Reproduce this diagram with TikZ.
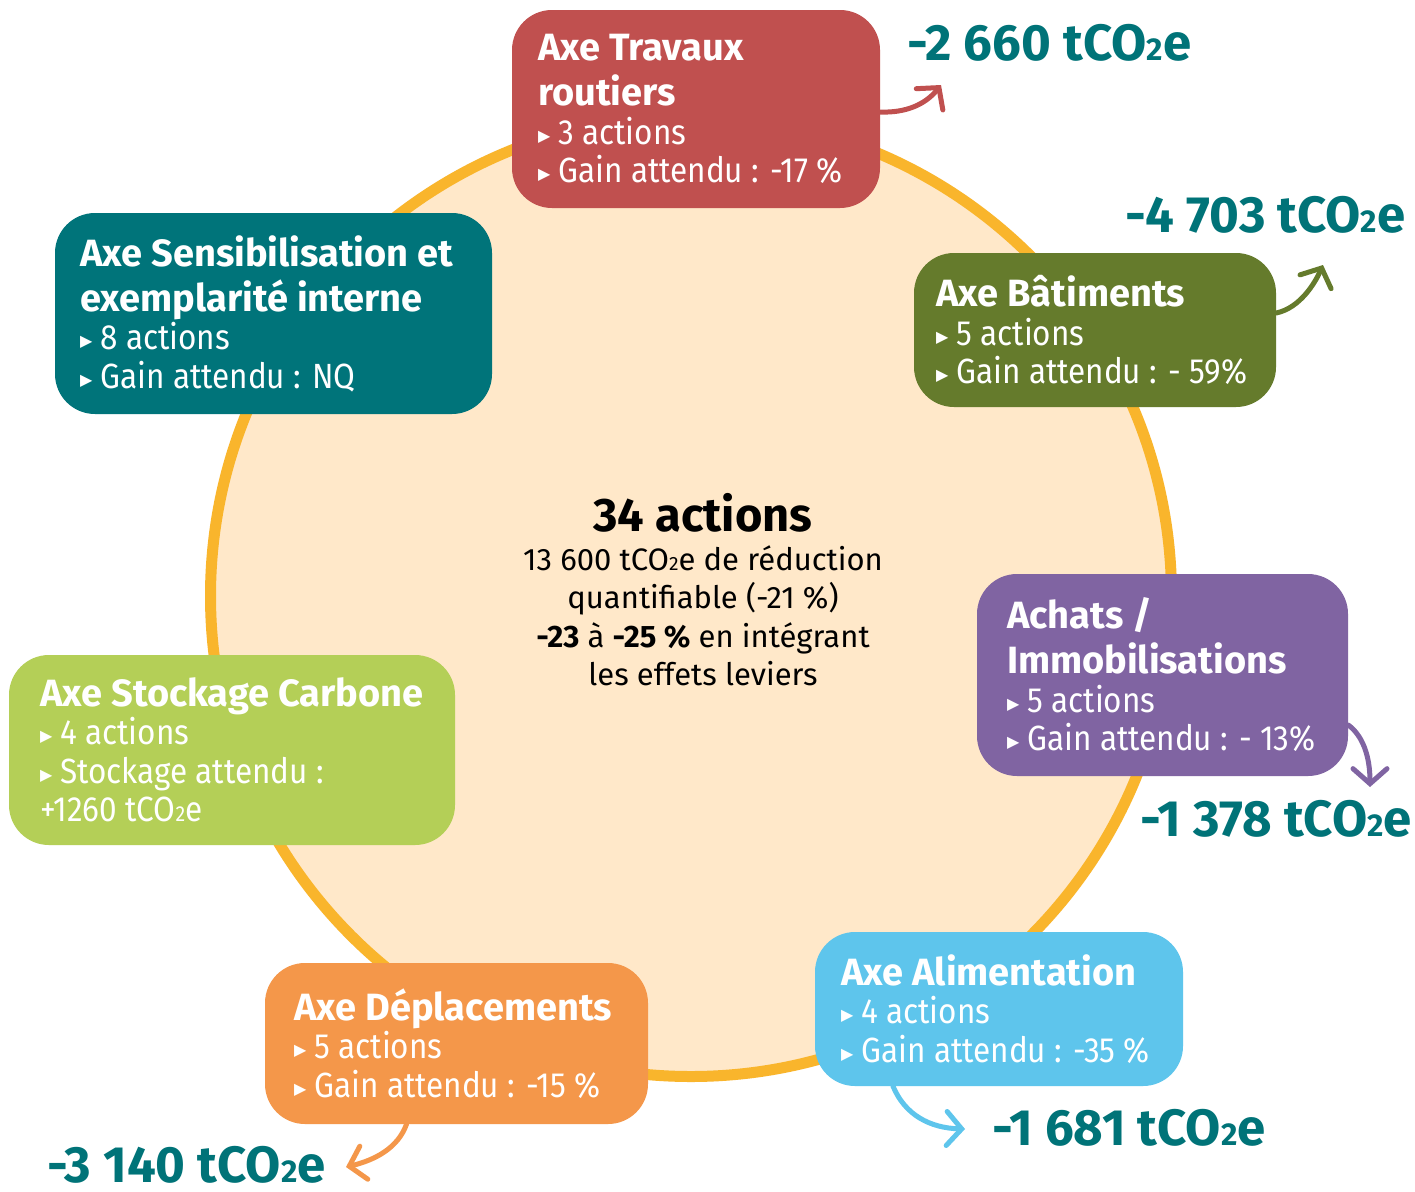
\documentclass[tikz,border=0pt]{standalone}
\usepackage{fontspec}
\setmainfont{Fira Sans}
\newfontfamily\narrowf{Fira Sans}[FakeStretch=0.9]
\newfontfamily\symf{DejaVu Sans}
\usetikzlibrary{arrows.meta}
\definecolor{redc}{RGB}{192,80,79}
\definecolor{tealc}{RGB}{0,116,122}
\definecolor{greenc}{RGB}{101,123,44}
\definecolor{purplec}{RGB}{128,100,162}
\definecolor{limec}{RGB}{180,207,87}
\definecolor{orangec}{RGB}{244,151,74}
\definecolor{bluec}{RGB}{94,197,236}
\definecolor{ringfill}{RGB}{255,232,201}
\definecolor{ringline}{RGB}{249,181,44}
\definecolor{numc}{RGB}{0,115,120}
\newcommand\two{\scalebox{0.62}{2}}
\newcommand\bul{\raisebox{3pt}{\symf\fontsize{16}{16}\selectfont ▶}\hspace{8pt}}
\newcommand\ttl[1]{{\rmfamily\bfseries\fontsize{38}{45}\selectfont #1}}
\tikzset{
  axebox/.style={rounded corners=40, inner sep=0, draw=none},
  axetxt/.style={anchor=west, align=left, text=white, inner sep=0,
    font=\narrowf\fontsize{35}{38.5}\selectfont},
  numlbl/.style={anchor=base west, text=numc, inner sep=0,
    font=\bfseries\fontsize{51}{55}\selectfont},
  arr/.style={line width=5, line cap=round, -{Straight Barb[length=15,width=34,line cap=round]}}
}
\begin{document}
\begin{tikzpicture}[x=1pt,y=-1pt]
\useasboundingbox (0,0) rectangle (1415,1191);
\fill[white] (0,0) rectangle (1415,1191);
% ring
\node[circle, draw=ringline, fill=ringfill, line width=11, minimum size=961, inner sep=0] (ring) at (691,596) {};
% centre
\node[align=center, inner sep=0, font=\fontsize{31}{38.5}\selectfont] (ctr) at (703,590)
 {{\bfseries\fontsize{47}{47}\selectfont 34 actions}\\
  13 600 tCO\two e de réduction\\
  quantifiable (-21 \%)\\
  \textbf{-23} à \textbf{-25 \%} en intégrant\\
  les effets leviers};
% boxes
\node[axebox, fill=redc, minimum width=368, minimum height=198] (trav) at (696,109) {};
\node[axetxt] (travt) at ([xshift=26]trav.west)
 {\ttl{Axe Travaux}\\[6.5pt]\ttl{routiers}\\ \bul 3 actions\\ \bul Gain attendu : -17 \%};
\node[axebox, fill=tealc, minimum width=437, minimum height=201] (sens) at (273.5,313.5) {};
\node[axetxt] (senst) at ([xshift=25]sens.west)
 {\ttl{Axe Sensibilisation et}\\[6.5pt]\ttl{exemplarité interne}\\ \bul 8 actions\\ \bul Gain attendu : NQ};
\node[axebox, fill=greenc, minimum width=362, minimum height=154] (bat) at (1095,330) {};
\node[axetxt] (batt) at ([xshift=22]bat.west)
 {\ttl{Axe Bâtiments}\\ \bul 5 actions\\ \bul Gain attendu : - 59\%};
\node[axebox, fill=purplec, minimum width=371, minimum height=202] (ach) at (1162.5,675) {};
\node[axetxt] (acht) at ([xshift=30]ach.west)
 {\ttl{Achats /}\\[6.5pt]\ttl{Immobilisations}\\ \bul 5 actions\\ \bul Gain attendu : - 13\%};
\node[axebox, fill=limec, minimum width=446, minimum height=190] (stock) at (232,750) {};
\node[axetxt] (stockt) at ([xshift=31]stock.west)
 {\ttl{Axe Stockage Carbone}\\ \bul 4 actions\\ \bul Stockage attendu :\\ +1260 tCO\two e};
\node[axebox, fill=orangec, minimum width=383, minimum height=161] (dep) at (456.5,1043.5) {};
\node[axetxt] (dept) at ([xshift=29]dep.west)
 {\ttl{Axe Déplacements}\\ \bul 5 actions\\ \bul Gain attendu : -15 \%};
\node[axebox, fill=bluec, minimum width=368, minimum height=154] (alim) at (999,1009) {};
\node[axetxt] (alimt) at ([xshift=26]alim.west)
 {\ttl{Axe Alimentation}\\ \bul 4 actions\\ \bul Gain attendu : -35 \%};
% numbers
\node[numlbl] (n1) at (907,60) {-2 660 tCO\two e};
\node[numlbl] (n2) at (1125,232) {-4 703 tCO\two e};
\node[numlbl] (n3) at (1140,836) {-1 378 tCO\two e};
\node[numlbl] (n4) at (992,1145) {-1 681 tCO\two e};
\node[numlbl] (n5) at (47,1182) {-3 140 tCO\two e};
% arrow tips
\coordinate (t1) at (941,85);
\coordinate (t2) at (1323,265);
\coordinate (t3) at (1370,787);
\coordinate (t4) at (965,1129);
\coordinate (t5) at (346,1167);
\draw[arr, draw=redc] ([yshift=-3]trav.east) .. controls (905,113) and (925,105) .. (t1);
\draw[arr, draw=greenc] ([yshift=17]bat.east) .. controls (1300,308) and (1315,283) .. (t2);
\draw[arr, draw=purplec] ([yshift=-50]ach.east) .. controls (1362,735) and (1370,755) .. (t3);
\draw[arr, draw=bluec] ([xshift=-106]alim.south) .. controls (905,1115) and (930,1128) .. (t4);
\draw[arr, draw=orangec] ([xshift=-50]dep.south) .. controls (398,1148) and (375,1160) .. (t5);
\end{tikzpicture}
\end{document}
